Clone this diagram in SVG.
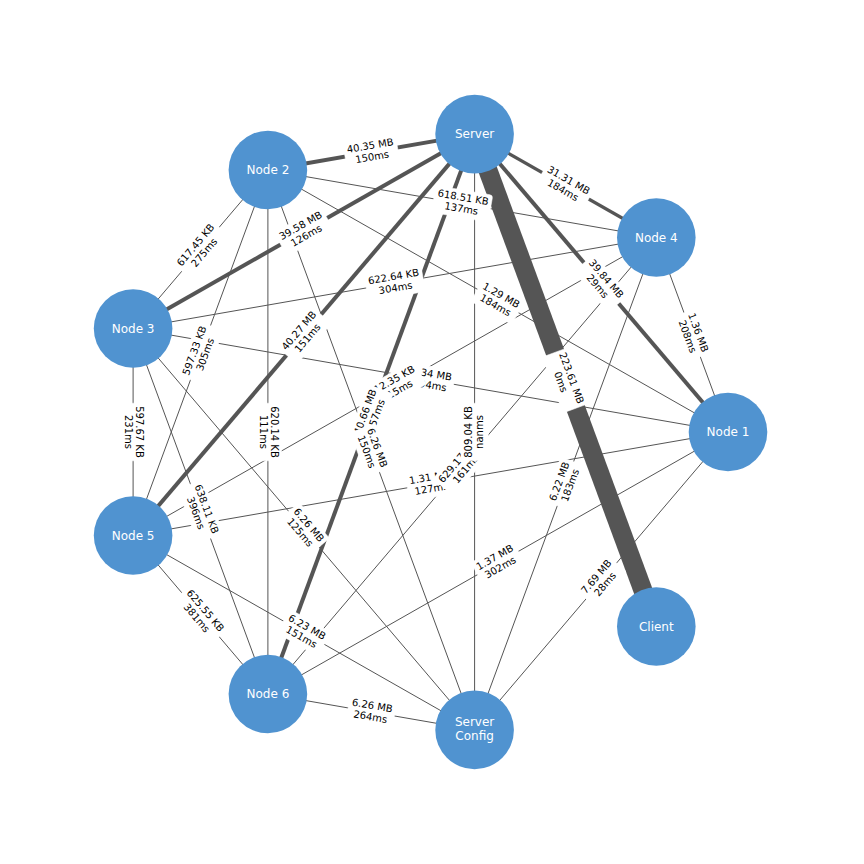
<svg xmlns="http://www.w3.org/2000/svg" xmlns:xlink="http://www.w3.org/1999/xlink" width="864" height="864" viewBox="0 0 864 864">
<style>
.e{stroke:#555555;stroke-width:1;fill:none}
.t4{stroke-width:4}
.t3{stroke-width:3.2}
.t19{stroke-width:19}
.lbl text{font-family:"DejaVu Sans",sans-serif;font-size:10px;text-anchor:middle;fill:#000}
.bx{fill:#ffffff;stroke:#ffffff;stroke-width:0.5}
.node circle{fill:#5093d0}
.node text{font-family:"DejaVu Sans",sans-serif;font-size:12px;text-anchor:middle;fill:#ffffff}
</style>
<defs>
<rect id="bA" class="bx" x="-26.65" y="-13.65" width="53.3" height="27.3" rx="3"/>
<rect id="bB" class="bx" x="-23.45" y="-13.65" width="46.9" height="27.3" rx="3"/>
<rect id="bC" class="bx" x="-28.8" y="-13.65" width="57.6" height="27.3" rx="3"/>
<rect id="bD" class="bx" x="-29.8" y="-13.65" width="59.6" height="27.3" rx="3"/>
</defs>
<rect width="864" height="864" fill="#ffffff"/>
<g id="edges">
<line class="e" x1="474.6" y1="134.1" x2="474.6" y2="729.9"/>
<line class="e" x1="267.9" y1="170" x2="656.3" y2="237.5"/>
<line class="e" x1="267.9" y1="170" x2="133.1" y2="328.5"/>
<line class="e" x1="267.9" y1="170" x2="728" y2="432"/>
<line class="e" x1="267.9" y1="170" x2="133.1" y2="535.5"/>
<line class="e" x1="267.9" y1="170" x2="267.9" y2="694"/>
<line class="e" x1="267.9" y1="170" x2="474.6" y2="729.9"/>
<line class="e" x1="133.1" y1="328.5" x2="656.3" y2="237.5"/>
<line class="e" x1="133.1" y1="328.5" x2="728" y2="432"/>
<line class="e" x1="133.1" y1="328.5" x2="133.1" y2="535.5"/>
<line class="e" x1="133.1" y1="328.5" x2="267.9" y2="694"/>
<line class="e" x1="133.1" y1="328.5" x2="474.6" y2="729.9"/>
<line class="e" x1="656.3" y1="237.5" x2="728" y2="432"/>
<line class="e" x1="656.3" y1="237.5" x2="133.1" y2="535.5"/>
<line class="e" x1="656.3" y1="237.5" x2="267.9" y2="694"/>
<line class="e" x1="656.3" y1="237.5" x2="474.6" y2="729.9"/>
<line class="e" x1="133.1" y1="535.5" x2="728" y2="432"/>
<line class="e" x1="133.1" y1="535.5" x2="267.9" y2="694"/>
<line class="e" x1="133.1" y1="535.5" x2="474.6" y2="729.9"/>
<line class="e" x1="267.9" y1="694" x2="474.6" y2="729.9"/>
<line class="e" x1="267.9" y1="694" x2="728" y2="432"/>
<line class="e" x1="728" y1="432" x2="474.6" y2="729.9"/>
<line class="e t4" x1="474.6" y1="134.1" x2="267.9" y2="170"/>
<line class="e t3" x1="474.6" y1="134.1" x2="656.3" y2="237.5"/>
<line class="e t4" x1="474.6" y1="134.1" x2="728" y2="432"/>
<line class="e t4" x1="474.6" y1="134.1" x2="133.1" y2="328.5"/>
<line class="e t4" x1="474.6" y1="134.1" x2="133.1" y2="535.5"/>
<line class="e t4" x1="474.6" y1="134.1" x2="267.9" y2="694"/>
<line class="e t19" x1="474.6" y1="134.1" x2="656.3" y2="626.5"/>
</g>
<g id="edge-labels" class="lbl">
<g transform="translate(371.25,152.05) rotate(-9.85)"><use xlink:href="#bA"/><text y="-3.05">40.35 MB</text><text y="8.35">150ms</text></g>
<g transform="translate(565.45,185.8) rotate(29.64)"><use xlink:href="#bA"/><text y="-3.05">31.31 MB</text><text y="8.35">184ms</text></g>
<g transform="translate(601.3,283.05) rotate(49.6)"><use xlink:href="#bA"/><text y="-3.05">39.84 MB</text><text y="8.35">29ms</text></g>
<g transform="translate(565.45,380.3) rotate(69.75)"><use xlink:href="#bD"/><text y="-3.05">223.61 MB</text><text y="8.35">0ms</text></g>
<g transform="translate(303.85,231.3) rotate(-29.65)"><use xlink:href="#bA"/><text y="-3.05">39.58 MB</text><text y="8.35">126ms</text></g>
<g transform="translate(303.85,334.8) rotate(-49.6)"><use xlink:href="#bA"/><text y="-3.05">40.27 MB</text><text y="8.35">151ms</text></g>
<g transform="translate(462.1,203.75) rotate(9.86)"><use xlink:href="#bC"/><text y="-3.05">618.51 KB</text><text y="8.35">137ms</text></g>
<g transform="translate(200.5,249.25) rotate(-49.6)"><use xlink:href="#bC"/><text y="-3.05">617.45 KB</text><text y="8.35">275ms</text></g>
<g transform="translate(497.95,301) rotate(29.66)"><use xlink:href="#bB"/><text y="-3.05">1.29 MB</text><text y="8.35">184ms</text></g>
<g transform="translate(200.5,352.75) rotate(-69.75)"><use xlink:href="#bC"/><text y="-3.05">597.33 KB</text><text y="8.35">305ms</text></g>
<g transform="translate(267.9,432) rotate(90)"><use xlink:href="#bC"/><text y="-3.05">620.14 KB</text><text y="8.35">111ms</text></g>
<g transform="translate(394.7,283) rotate(-9.87)"><use xlink:href="#bC"/><text y="-3.05">622.64 KB</text><text y="8.35">304ms</text></g>
<g transform="translate(430.55,380.25) rotate(9.87)"><use xlink:href="#bB"/><text y="-3.05">1.34 MB</text><text y="8.35">194ms</text></g>
<g transform="translate(394.7,386.5) rotate(-29.66)"><use xlink:href="#bC"/><text y="-3.05">612.35 KB</text><text y="8.35">215ms</text></g>
<g transform="translate(371.25,414.05) rotate(-69.74)"><use xlink:href="#bA"/><text y="-3.05">40.66 MB</text><text y="8.35">157ms</text></g>
<g transform="translate(371.25,449.95) rotate(69.74)"><use xlink:href="#bB"/><text y="-3.05">6.26 MB</text><text y="8.35">150ms</text></g>
<g transform="translate(133.1,432) rotate(90)"><use xlink:href="#bC"/><text y="-3.05">597.67 KB</text><text y="8.35">231ms</text></g>
<g transform="translate(200.5,511.25) rotate(69.75)"><use xlink:href="#bC"/><text y="-3.05">638.11 KB</text><text y="8.35">396ms</text></g>
<g transform="translate(303.85,529.2) rotate(49.6)"><use xlink:href="#bB"/><text y="-3.05">6.26 MB</text><text y="8.35">125ms</text></g>
<g transform="translate(692.15,334.75) rotate(69.77)"><use xlink:href="#bB"/><text y="-3.05">1.36 MB</text><text y="8.35">208ms</text></g>
<g transform="translate(430.55,483.75) rotate(-9.87)"><use xlink:href="#bB"/><text y="-3.05">1.31 MB</text><text y="8.35">127ms</text></g>
<g transform="translate(462.1,465.75) rotate(-49.6)"><use xlink:href="#bC"/><text y="-3.05">629.17 KB</text><text y="8.35">161ms</text></g>
<g transform="translate(474.6,432) rotate(-90)"><use xlink:href="#bC"/><text y="-3.05">809.04 KB</text><text y="8.35">nanms</text></g>
<g transform="translate(565.45,483.7) rotate(-69.75)"><use xlink:href="#bB"/><text y="-3.05">6.22 MB</text><text y="8.35">183ms</text></g>
<g transform="translate(200.5,614.75) rotate(49.6)"><use xlink:href="#bC"/><text y="-3.05">625.55 KB</text><text y="8.35">381ms</text></g>
<g transform="translate(303.85,632.7) rotate(29.65)"><use xlink:href="#bB"/><text y="-3.05">6.23 MB</text><text y="8.35">151ms</text></g>
<g transform="translate(371.25,711.95) rotate(9.85)"><use xlink:href="#bB"/><text y="-3.05">6.26 MB</text><text y="8.35">264ms</text></g>
<g transform="translate(497.95,563) rotate(-29.66)"><use xlink:href="#bB"/><text y="-3.05">1.37 MB</text><text y="8.35">302ms</text></g>
<g transform="translate(601.3,580.95) rotate(-49.6)"><use xlink:href="#bB"/><text y="-3.05">7.69 MB</text><text y="8.35">28ms</text></g>
</g>
<g id="node-server" class="node"><circle cx="474.6" cy="134.1" r="39.3"/><text x="474.6" y="138.25">Server</text></g>
<g id="node-2" class="node"><circle cx="267.9" cy="170" r="39.3"/><text x="267.9" y="174.15">Node 2</text></g>
<g id="node-4" class="node"><circle cx="656.3" cy="237.5" r="39.3"/><text x="656.3" y="241.65">Node 4</text></g>
<g id="node-3" class="node"><circle cx="133.1" cy="328.5" r="39.3"/><text x="133.1" y="332.65">Node 3</text></g>
<g id="node-1" class="node"><circle cx="728" cy="432" r="39.3"/><text x="728" y="436.15">Node 1</text></g>
<g id="node-5" class="node"><circle cx="133.1" cy="535.5" r="39.3"/><text x="133.1" y="539.65">Node 5</text></g>
<g id="node-client" class="node"><circle cx="656.3" cy="626.5" r="39.3"/><text x="656.3" y="630.65">Client</text></g>
<g id="node-6" class="node"><circle cx="267.9" cy="694" r="39.3"/><text x="267.9" y="698.15">Node 6</text></g>
<g id="node-server-config" class="node"><circle cx="474.6" cy="729.9" r="39.3"/><text x="474.6" y="726.2">Server</text><text x="474.6" y="740">Config</text></g>
</svg>
